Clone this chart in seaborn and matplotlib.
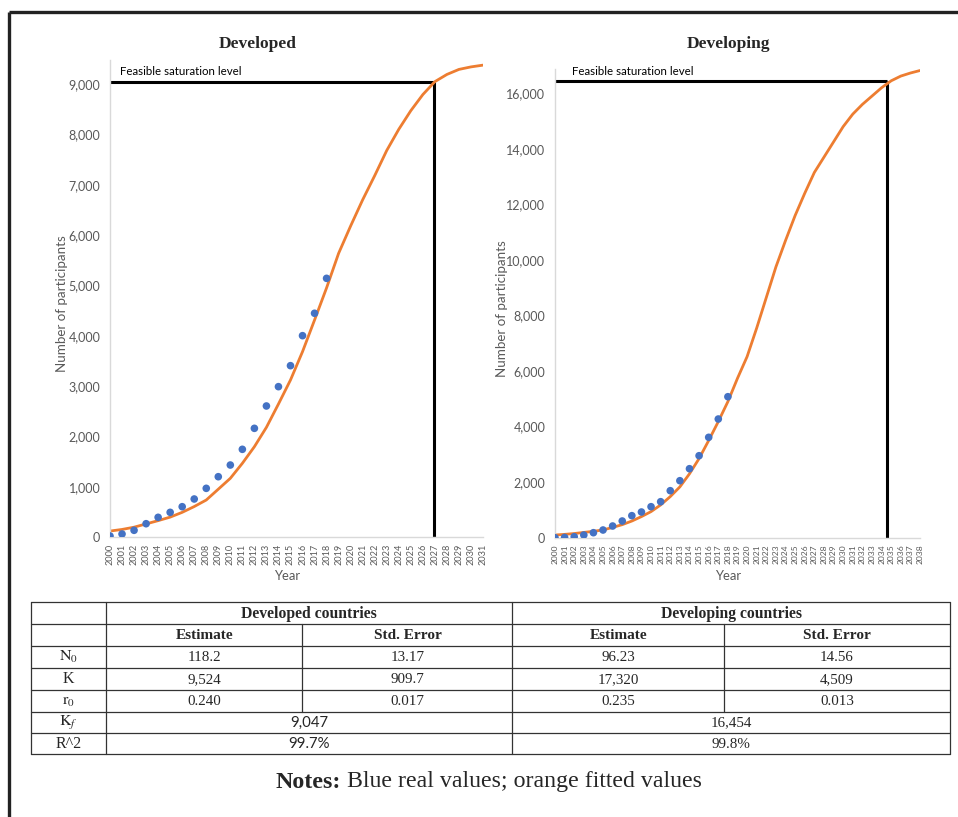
"""
Logistic growth of participants: developed vs developing countries.
Two fitted curves + real values, with a parameter table underneath.
"""

import numpy as np
import matplotlib
matplotlib.use("Agg")
import matplotlib.pyplot as plt
from matplotlib.ticker import FuncFormatter
import seaborn as sns

# ---------------- DATA ----------------
YEARS_REAL = list(range(2000, 2019))
YEARS_DEV = list(range(2000, 2032))
YEARS_DVG = list(range(2000, 2039))

# developed countries
dev_real = [20, 60, 133, 264, 391, 490, 602, 755, 967, 1198, 1430, 1742, 2159,
            2603, 2987, 3404, 4000, 4445, 5139]
dev_fit = [118, 150, 195, 260, 325, 395, 490, 605, 735, 950, 1166, 1464, 1794,
           2179, 2642, 3119, 3682, 4311, 4950, 5636, 6180, 6700, 7180, 7680,
           8100, 8470, 8790, 9047, 9190, 9290, 9340, 9375]

# developing countries
dvg_real = [0, 10, 36, 97, 180, 277, 421, 601, 793, 925, 1116, 1296, 1692,
            2052, 2484, 2952, 3614, 4273, 5076]
dvg_fit = [97, 120, 150, 190, 230, 280, 370, 470, 600, 760, 940, 1180, 1480,
           1830, 2300, 2850, 3500, 4180, 4900, 5740, 6520, 7550, 8650, 9750,
           10700, 11600, 12400, 13150, 13700, 14250, 14800, 15250, 15600,
           15900, 16200, 16450, 16620, 16730, 16820]

KF_DEV = 9047
KF_DVG = 16454
CROSS_DEV = 2026.9
CROSS_DVG = 2034.6

# table
row_labels = [r"$\mathrm{N}_0$", "K", r"$\mathrm{r}_0$", r"$\mathrm{K}_f$", "R^2"]
dev_est = ["118.2", "9,524", "0.240"]
dev_se = ["13.17", "909.7", "0.017"]
dvg_est = ["96.23", "17,320", "0.235"]
dvg_se = ["14.56", "4,509", "0.013"]
kf_vals = ["9,047", "16,454"]
r2_vals = ["99.7%", "99.8%"]

# ---------------- STYLE ----------------
sns.set_style("white")
plt.rcParams["font.family"] = ["Lato", "DejaVu Sans"]
plt.rcParams["mathtext.fontset"] = "stix"

ORANGE = "#ED7D31"
BLUE = "#4472C4"
GRAY = "#595959"
SPINE = "#d9d9d9"
SERIF = ["Liberation Serif", "DejaVu Serif"]

W, H = 958, 817
fig = plt.figure(figsize=(W / 100, H / 100), dpi=100)


def px_axes(x0, y0, x1, y1):
    return fig.add_axes([x0 / W, 1 - y1 / H, (x1 - x0) / W, (y1 - y0) / H])


def draw_panel(ax, years, fit, real, kf, cross, ymax, ystep, text_x, ylab_x, xlab_x, xfs):
    sns.lineplot(x=years, y=fit, ax=ax, color=ORANGE, lw=2.0, zorder=2)
    sns.scatterplot(x=YEARS_REAL, y=real, ax=ax, color=BLUE, s=30,
                    edgecolor="none", zorder=3)
    ax.plot([years[0], cross], [kf, kf], color="black", lw=2.2, zorder=1,
            solid_capstyle="butt")
    ax.plot([cross, cross], [0, kf], color="black", lw=2.2, zorder=1,
            solid_capstyle="butt")
    ax.annotate("Feasible saturation level", xy=(text_x, kf), xycoords=("axes fraction", "data"),
                xytext=(0, 3), textcoords="offset points", fontsize=8.3,
                color="black", va="bottom", ha="left")

    ax.set_xlim(years[0], years[-1])
    ax.set_ylim(0, ymax)
    ax.set_xticks(years)
    ax.set_xticklabels([str(y) for y in years], rotation=90, fontsize=xfs, color=GRAY)
    ax.set_yticks(np.arange(0, ymax, ystep))
    ax.yaxis.set_major_formatter(FuncFormatter(lambda v, p: f"{v:,.0f}"))
    ax.tick_params(axis="y", labelsize=9, colors=GRAY, length=0, pad=7)
    ax.tick_params(axis="x", length=0, pad=5)

    for s in ["top", "right"]:
        ax.spines[s].set_visible(False)
    for s in ["left", "bottom"]:
        ax.spines[s].set_color(SPINE)
        ax.spines[s].set_linewidth(1.0)

    ax.set_ylabel("Number of participants", fontsize=9.6, color=GRAY)
    ax.yaxis.set_label_coords(ylab_x, 0.49)
    ax.set_xlabel("Year", fontsize=9.4, color=GRAY)
    ax.xaxis.set_label_coords(xlab_x, -0.07)


ax1 = px_axes(110, 60, 483, 537)
draw_panel(ax1, YEARS_DEV, dev_fit, dev_real, KF_DEV, CROSS_DEV, 9477, 1000,
           0.027, -0.113, 0.475, 6.6)

ax2 = px_axes(555, 69.3, 920, 537.7)
draw_panel(ax2, YEARS_DVG, dvg_fit, dvg_real, KF_DVG, CROSS_DVG, 16864, 2000,
           0.047, -0.13, 0.474, 6.1)

# ---------------- OVERLAY: titles, frame, table, notes ----------------
ov = fig.add_axes([0, 0, 1, 1], facecolor="none")
ov.set_xlim(0, W)
ov.set_ylim(H, 0)
ov.axis("off")

ov.text(258, 44, "Developed", ha="center", va="center", fontsize=12.5,
        fontweight="bold", family=SERIF)
ov.text(728, 44, "Developing", ha="center", va="center", fontsize=12.5,
        fontweight="bold", family=SERIF)

# page frame (top + left)
ov.plot([9.5, W], [11.5, 11.5], color="#222222", lw=2.4, solid_capstyle="butt")
ov.plot([9.5, 9.5], [11.5, H], color="#222222", lw=2.4, solid_capstyle="butt")

# table grid
xs = [31, 106, 302.5, 512.5, 724, 950]
ys = [602.3, 624.3, 645.8, 667.8, 689.8, 711.6, 733.2, 754.3]
tw = 0.9
for y in ys:
    ov.plot([xs[0], xs[-1]], [y, y], color="#333333", lw=tw)
ov.plot([xs[0], xs[0]], [ys[0], ys[-1]], color="#333333", lw=tw)
ov.plot([xs[-1], xs[-1]], [ys[0], ys[-1]], color="#333333", lw=tw)
ov.plot([xs[1], xs[1]], [ys[0], ys[-1]], color="#333333", lw=tw)
ov.plot([xs[3], xs[3]], [ys[0], ys[-1]], color="#333333", lw=tw)
ov.plot([xs[2], xs[2]], [ys[1], ys[5]], color="#333333", lw=tw)
ov.plot([xs[4], xs[4]], [ys[1], ys[5]], color="#333333", lw=tw)


def cell(text, c0, c1, r, bold=False, fam=SERIF, fs=10.8):
    ov.text((xs[c0] + xs[c1]) / 2, (ys[r] + ys[r + 1]) / 2 + 0.5, text,
            ha="center", va="center", fontsize=fs, family=fam,
            fontweight="bold" if bold else "normal")


cell("Developed countries", 1, 3, 0, bold=True, fs=11.3)
cell("Developing countries", 3, 5, 0, bold=True, fs=11.3)
for c in [1, 3]:
    cell("Estimate", c, c + 1, 1, bold=True, fs=11)
    cell("Std. Error", c + 1, c + 2, 1, bold=True, fs=11)

for i, lab in enumerate(row_labels):
    cell(lab, 0, 1, 2 + i, fs=11.5)
for i in range(3):
    cell(dev_est[i], 1, 2, 2 + i)
    cell(dev_se[i], 2, 3, 2 + i)
    cell(dvg_est[i], 3, 4, 2 + i)
    cell(dvg_se[i], 4, 5, 2 + i)
cell(kf_vals[0], 1, 3, 5, fam=["Lato", "DejaVu Sans"], fs=10.8)
cell(kf_vals[1], 3, 5, 5)
cell(r2_vals[0], 1, 3, 6, fam=["Lato", "DejaVu Sans"], fs=10.8)
cell(r2_vals[1], 3, 5, 6)

# notes
t1 = ov.text(276, 782, "Notes:", ha="left", va="center", fontsize=17.2,
             fontweight="bold", family=SERIF)
ov.annotate(" Blue real values; orange fitted values", xy=(1, 0.5), xycoords=t1,
            ha="left", va="center", fontsize=17.2, family=SERIF)

plt.savefig("out.png", dpi=100)
plt.close()
print("Saved: out.png")
